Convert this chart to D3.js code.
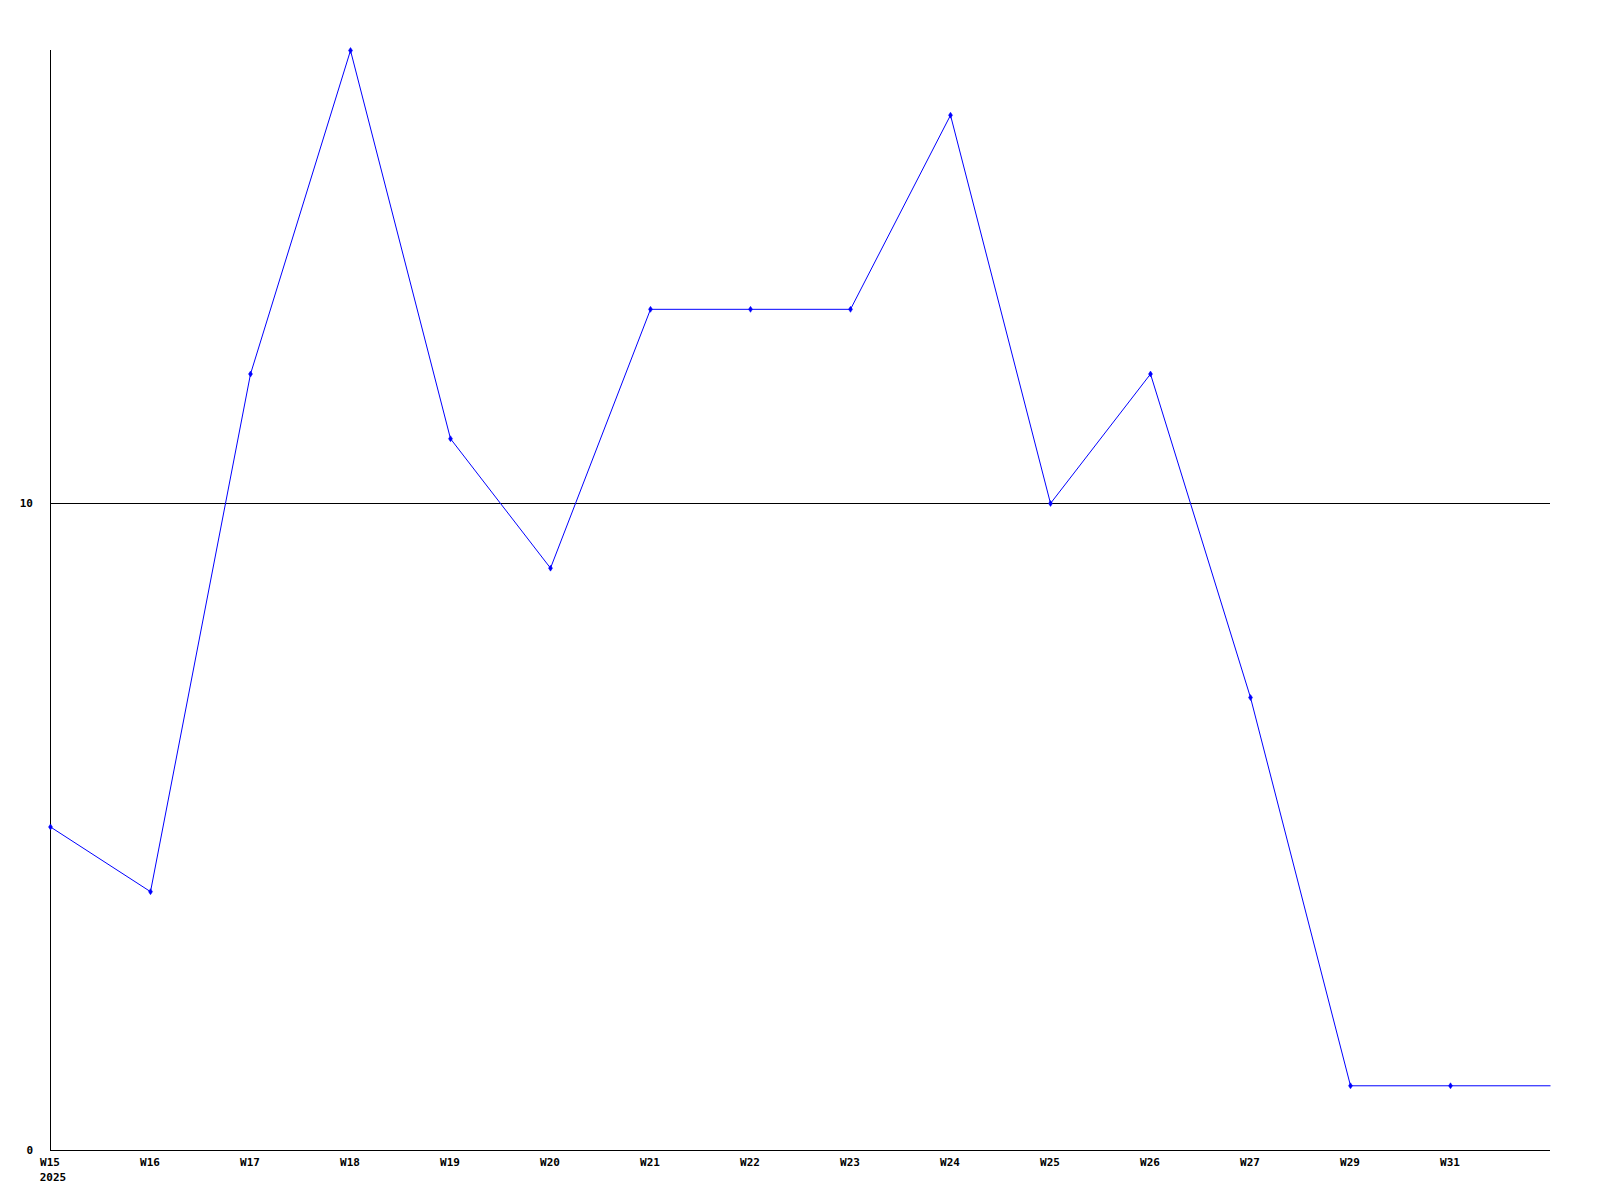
<!DOCTYPE html>
<html><head><meta charset="utf-8">
<script src="https://cdn.jsdelivr.net/npm/d3@7"></script>
<style>body{margin:0;background:#fff}svg{display:block}text{font-family:"DejaVu Sans Mono",monospace;font-weight:bold;font-size:11px;fill:#000}</style>
</head><body>
<script>
const categories = ["W15","W16","W17","W18","W19","W20","W21","W22","W23","W24","W25","W26","W27","W29","W31",""];
const values = [5,4,12,17,11,9,13,13,13,16,10,12,7,1,1,1];
const yTicks = [0,10];
const yearLabel = "2025";

const W=1600,H=1200;
const svg=d3.select("body").append("svg").attr("width",W).attr("height",H);
const x=d3.scaleLinear().domain([0,categories.length-1]).range([50,1550]);
const y=d3.scaleLinear().domain([0,17]).range([1150,50]);

// grid line at 10
svg.selectAll(".grid").data(yTicks.filter(d=>d>0)).enter().append("line")
  .attr("x1",50).attr("x2",1550).attr("y1",d=>Math.round(y(d))+0.5).attr("y2",d=>Math.round(y(d))+0.5)
  .attr("stroke","#000").attr("stroke-width",1).attr("shape-rendering","crispEdges");
// axes
svg.append("line").attr("x1",50.5).attr("x2",50.5).attr("y1",50).attr("y2",1150).attr("stroke","#000").attr("shape-rendering","crispEdges");
svg.append("line").attr("x1",50).attr("x2",1550).attr("y1",1150.5).attr("y2",1150.5).attr("stroke","#000").attr("shape-rendering","crispEdges");

svg.selectAll(".yl").data(yTicks).enter().append("text")
  .attr("x",33).attr("y",d=>y(d)+4).attr("text-anchor","end").text(d=>d);
svg.selectAll(".xl").data(categories).enter().append("text")
  .attr("x",(d,i)=>x(i)).attr("y",1166).attr("text-anchor","middle").text(d=>d);
svg.append("text").attr("x",x(0)+3).attr("y",1181).attr("text-anchor","middle").text(yearLabel);

const line=d3.line().x((d,i)=>x(i)+0.5).y(d=>y(d)+0.5);
svg.append("path").datum(values).attr("d",line).attr("fill","none").attr("stroke","#0000ff").attr("stroke-width",1);
svg.selectAll(".pt").data(values.slice(0,categories.length-1)).enter().append("path")
  .attr("transform",(d,i)=>`translate(${x(i)+0.5},${y(d)+0.5})`)
  .attr("d","M0,-3L2,0L0,3L-2,0Z").attr("fill","#0000ff").attr("stroke","#0000ff").attr("stroke-width",0.5);
</script>
</body></html>
